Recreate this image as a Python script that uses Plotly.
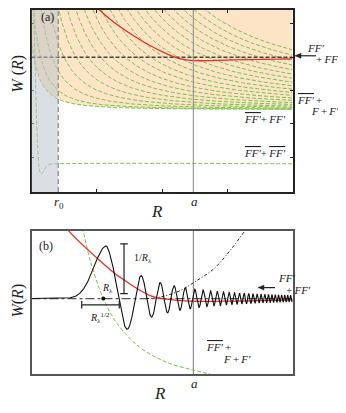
import numpy as np
import plotly.graph_objects as go

# the page body keeps its default 8px margin, so the figure is drawn 8px smaller
# and every picture pixel position is shifted by OFF
W, H = 346, 413
OFF = 8
WF, HF = W - OFF, H - OFF
SERIF = "Liberation Serif"

# ---- panel (a) data ----
r0 = 0.41
a_pos = 2.48
threshold_ff = 3.0          # FF' + FF' threshold
R_SHIFT = 0.27

# continuum curves (FFbar' + F + F'): threshold and strength of each dashed curve
green_threshold = [1.430, 1.432, 1.437, 1.446, 1.459, 1.475, 1.495, 1.518, 1.545, 1.576, 1.610,
                   1.648, 1.689, 1.734, 1.783, 1.835, 1.891, 1.950, 2.013, 2.080, 2.150]
green_strength = [0.144, 0.263, 0.531, 0.914, 1.401, 1.981, 2.648, 3.399, 4.230, 5.138, 6.115,
                  7.167, 8.286, 9.473, 10.725, 12.042, 13.419, 14.863, 16.364, 17.924, 19.544]

red_a_R = [0.85, 0.915, 1.195, 1.553, 1.808, 2.064, 2.268, 2.483, 3.08, 4.0]
red_a_W = [4.80, 4.66, 4.16, 3.66, 3.36, 3.11, 2.96, 2.90, 2.92, 2.95]

bound_R = [0.035, 0.05, 0.07, 0.09, 0.11, 0.13, 0.15, 0.18, 0.22, 0.27, 0.4, 4.0]
bound_W = [4.7, 3.2, 1.6, 0.5, -0.2, -0.45, -0.51, -0.44, -0.3, -0.22, -0.2, -0.2]

# ---- panel (b) data ----
red_b_R = [0.5, 0.57, 1.05, 1.36, 1.82, 2.17, 2.49, 3.1, 4.0]
red_b_W = [7.4, 6.8, 3.8, 2.13, 0.3, -0.13, -0.27, -0.25, -0.13]

green_b_R = [0.77, 0.79, 0.9, 1.1, 1.31, 1.66, 2.07, 2.49, 2.74, 2.9]
green_b_W = [7.1, 6.8, 3.8, 0.03, -2.5, -4.9, -6.4, -7.2, -7.6, -7.9]

dot_b_R = [1.75, 1.97, 2.28, 2.49, 2.79, 3.04, 3.27, 3.32]
dot_b_W = [0.0, 0.15, 0.8, 1.63, 2.97, 4.8, 6.8, 7.2]

# oscillating wave function parameters
wave_peak_R = 1.15
wave_peak_W = 5.3
wave_left_width = 0.27
k_ref, R_ref, k_pow, amp_pow = 11.6, 1.42, 2.45, 0.9

R_lambda = 1.1

# axis ranges (panel a top edge is hidden by the page margin, so its range stops at 4.42)
YA = [-1.05, 4.42]
YB = [-7.6, 6.8]

fig = go.Figure()

# ----- panel (a) -----
Rg = np.linspace(0, 4, 600)
low = green_threshold[0] + green_strength[0] / (Rg + R_SHIFT) ** 2
low = np.minimum(low, YA[1])
fig.add_trace(go.Scatter(x=np.concatenate([Rg, Rg[::-1]]),
                         y=np.concatenate([low, np.full_like(Rg, YA[1])]),
                         fill='toself', fillcolor='#fee4c6', line=dict(width=0),
                         mode='lines', hoverinfo='skip', showlegend=False,
                         xaxis='x', yaxis='y'))

for L, s in zip(green_threshold, green_strength):
    yv = L + s / (Rg + R_SHIFT) ** 2
    yv = np.where(yv > 6, np.nan, yv)
    fig.add_trace(go.Scatter(x=Rg, y=yv, mode='lines',
                             line=dict(color='#74c44c', width=1, dash='4px,2px'),
                             showlegend=False, xaxis='x', yaxis='y'))

fig.add_trace(go.Scatter(x=bound_R, y=bound_W, mode='lines', line_shape='spline',
                         line=dict(color='#74c44c', width=1, dash='4px,2px'),
                         showlegend=False, xaxis='x', yaxis='y'))
fig.add_trace(go.Scatter(x=[0, 4], y=[threshold_ff, threshold_ff], mode='lines',
                         line=dict(color='#444444', width=1.5, dash='4px,2px'),
                         showlegend=False, xaxis='x', yaxis='y'))
fig.add_trace(go.Scatter(x=red_a_R, y=red_a_W, mode='lines', line_shape='spline',
                         line=dict(color='#e8302a', width=1.3),
                         showlegend=False, xaxis='x', yaxis='y'))

# ----- panel (b) -----
Rb = np.linspace(0, 4, 6000)
k = k_ref * (Rb / R_ref) ** k_pow
k0 = k_ref * (wave_peak_R / R_ref) ** k_pow
phase = k_ref * R_ref / (k_pow + 1) * ((Rb / R_ref) ** (k_pow + 1) - (wave_peak_R / R_ref) ** (k_pow + 1))
amp = wave_peak_W * (k0 / np.maximum(k, 1e-9)) ** amp_pow
wave = np.where(Rb < wave_peak_R,
                wave_peak_W * np.exp(-((wave_peak_R - Rb) / wave_left_width) ** 2),
                amp * np.cos(phase))

fig.add_trace(go.Scatter(x=[0, 4], y=[0, 0], mode='lines',
                         line=dict(color='#555555', width=1.2, dash='dashdot'),
                         showlegend=False, xaxis='x2', yaxis='y2'))
fig.add_trace(go.Scatter(x=green_b_R, y=green_b_W, mode='lines', line_shape='spline',
                         line=dict(color='#74c44c', width=1, dash='4px,2px'),
                         showlegend=False, xaxis='x2', yaxis='y2'))
fig.add_trace(go.Scatter(x=dot_b_R, y=dot_b_W, mode='lines', line_shape='spline',
                         line=dict(color='#222222', width=1, dash='3px,2px,1px,2px'),
                         showlegend=False, xaxis='x2', yaxis='y2'))
fig.add_trace(go.Scatter(x=red_b_R, y=red_b_W, mode='lines', line_shape='spline',
                         line=dict(color='#e8302a', width=1.3),
                         showlegend=False, xaxis='x2', yaxis='y2'))
fig.add_trace(go.Scatter(x=Rb, y=wave, mode='lines',
                         line=dict(color='#111111', width=1.1),
                         showlegend=False, xaxis='x2', yaxis='y2'))
fig.add_trace(go.Scatter(x=[R_lambda], y=[0], mode='markers',
                         marker=dict(color='black', size=4),
                         showlegend=False, xaxis='x2', yaxis='y2'))


def px(x, y):
    # picture pixel position -> paper coordinates
    return (x - OFF) / WF, 1 - (y - OFF) / HF


def arrow_shapes(x_head, x_tail, y):
    # horizontal arrow pointing left, drawn in paper coordinates
    hx, hy = px(x_head, y)
    sx, _ = px(x_head + 4, y)
    tx, _ = px(x_tail, y)
    p1 = px(x_head + 6, y - 2.5)
    p2 = px(x_head + 6, y + 2.5)
    return [
        dict(type='line', xref='paper', yref='paper', x0=sx, x1=tx, y0=hy, y1=hy,
             line=dict(color='#222', width=1.2)),
        dict(type='path', xref='paper', yref='paper',
             path=f'M {hx},{hy} L {p1[0]},{p1[1]} L {p2[0]},{p2[1]} Z',
             fillcolor='#222', line=dict(color='#222', width=0.5)),
    ]


shapes = [
    # gray region r < r0
    dict(type='rect', xref='x', yref='y', x0=0, x1=r0, y0=YA[0], y1=YA[1],
         fillcolor='rgba(190,195,203,0.55)', line=dict(width=0), layer='above'),
    dict(type='line', xref='x', yref='y', x0=r0, x1=r0, y0=YA[0], y1=YA[1],
         line=dict(color='#999999', width=1.5, dash='5px,3px'), layer='above'),
    dict(type='line', xref='x', yref='y', x0=a_pos, x1=a_pos, y0=YA[0], y1=YA[1],
         line=dict(color='#888888', width=1), layer='above'),
    dict(type='line', xref='x2', yref='y2', x0=a_pos, x1=a_pos, y0=YB[0], y1=YB[1],
         line=dict(color='#777777', width=1), layer='below'),
    # 1/R_lambda bar
    dict(type='line', xref='x2', yref='y2', x0=1.418, x1=1.418, y0=0.5, y1=5.5,
         line=dict(color='#222', width=1.2)),
    dict(type='line', xref='x2', yref='y2', x0=1.36, x1=1.476, y0=5.5, y1=5.5,
         line=dict(color='#222', width=1.2)),
    dict(type='line', xref='x2', yref='y2', x0=1.36, x1=1.476, y0=0.5, y1=0.5,
         line=dict(color='#222', width=1.2)),
    # R_lambda^(1/2) bar
    dict(type='line', xref='x2', yref='y2', x0=0.77, x1=1.345, y0=-0.63, y1=-0.63,
         line=dict(color='#222', width=1.2)),
    dict(type='line', xref='x2', yref='y2', x0=0.77, x1=0.77, y0=-0.25, y1=-1.0,
         line=dict(color='#222', width=1.2)),
    dict(type='line', xref='x2', yref='y2', x0=1.345, x1=1.345, y0=-0.25, y1=-1.0,
         line=dict(color='#222', width=1.2)),
]
shapes += arrow_shapes(295, 316, 54)
shapes += arrow_shapes(258, 275, 287)


def label(x, y, text, size=11, angle=0, anchor='center'):
    xp, yp = px(x, y)
    return dict(x=xp, y=yp, xref='paper', yref='paper', text=text, showarrow=False,
                textangle=angle, font=dict(family=SERIF, size=size, color='#222'),
                xanchor=anchor, yanchor='middle', borderpad=0)


TS = '\u2009'  # thin space
OV = '<span style="text-decoration:overline"><i>FF′</i></span>'
annotations = [
    label(47, 15, '(a)', 12),
    label(18, 72, '<i>W</i> (<i>R</i>)', 16, -90),
    label(59, 201, '<i>r</i><sub>0</sub>', 13),
    label(194, 200, '<i>a</i>', 13),
    label(157, 211, '<i>R</i>', 17),
    label(306, 46, '<i>FF′</i>', 11, anchor='left'),
    label(315, 57, '+' + TS + '<i>FF′</i>', 11, anchor='left'),
    label(296, 98, OV + TS + '+', 11, anchor='left'),
    label(310, 110, '<i>F</i>' + TS + '+' + TS + '<i>F′</i>', 11, anchor='left'),
    label(265, 118, OV + '+' + TS + '<i>FF′</i>', 11),
    label(265, 152, OV + '+' + TS + OV, 11),
    label(46, 245, '(b)', 12),
    label(18, 300, '<i>W</i>(<i>R</i>)', 16, -90),
    label(143, 258, '1/<i>R</i><sub>λ</sub>', 10),
    label(107, 288, '<i>R</i><sub>λ</sub>', 10),
    label(100, 318, '<i>R</i><sub>λ</sub><sup>1/2</sup>', 10),
    label(277, 277, '<i>FF′</i>', 11, anchor='left'),
    label(285, 289, '+' + TS + '<i>FF′</i>', 11, anchor='left'),
    label(205, 347, OV + TS + '+', 11, anchor='left'),
    label(222, 359, '<i>F</i>' + TS + '+' + TS + '<i>F′</i>', 11, anchor='left'),
    label(194, 383, '<i>a</i>', 13),
    label(160, 393, '<i>R</i>', 17),
]

x_dom = [px(31.5, 0)[0], px(292.5, 0)[0]]
fig.update_layout(
    width=WF, height=HF,
    margin=dict(l=0, r=0, t=0, b=0),
    paper_bgcolor='white', plot_bgcolor='white',
    showlegend=False,
    xaxis=dict(domain=x_dom, range=[0, 4], anchor='y',
               tickvals=[1, 2, 3], showticklabels=False,
               ticks='inside', ticklen=3, tickcolor='#222',
               showgrid=False, zeroline=False, showline=True, linecolor='#222',
               linewidth=1.5, mirror='ticks'),
    yaxis=dict(domain=[px(0, 191)[1], 1], range=YA, anchor='x',
               tickvals=[0, 1, 2, 3, 4], showticklabels=False,
               ticks='inside', ticklen=3, tickcolor='#222',
               showgrid=False, zeroline=False, showline=True, linecolor='#222',
               linewidth=1.5, mirror='ticks'),
    xaxis2=dict(domain=x_dom, range=[0, 4], anchor='y2',
                showticklabels=False, ticks='',
                showgrid=False, zeroline=False, showline=True, linecolor='#555',
                linewidth=1.5, mirror=True),
    yaxis2=dict(domain=[px(0, 374)[1], px(0, 230)[1]], range=YB, anchor='x2',
                showticklabels=False, ticks='',
                showgrid=False, zeroline=False, showline=True, linecolor='#555',
                linewidth=1.5, mirror=True),
    shapes=shapes,
    annotations=annotations,
)

fig.write_html("out.html")
